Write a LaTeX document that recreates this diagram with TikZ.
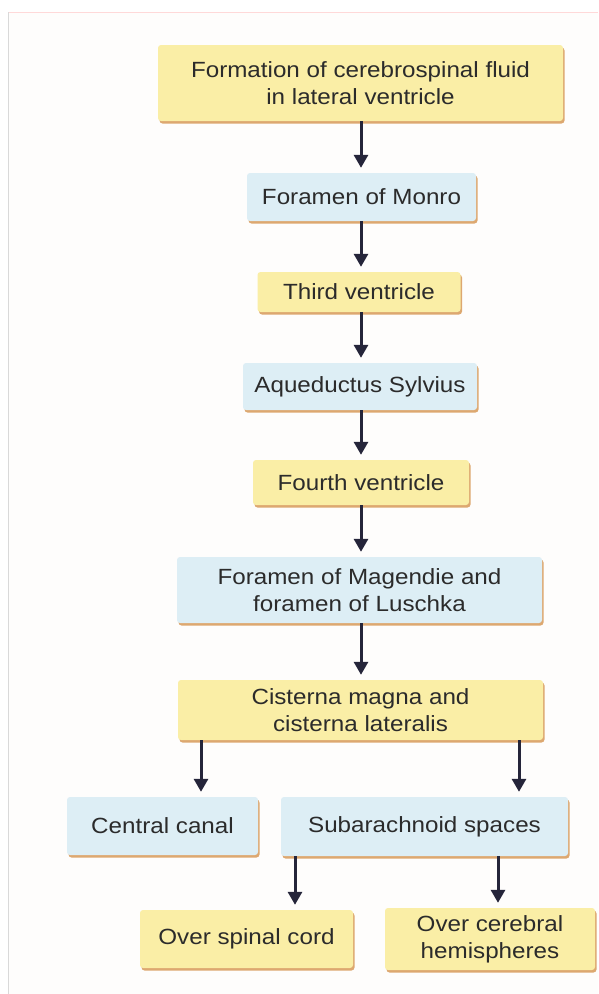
\documentclass[tikz,border=0pt]{standalone}
\usepackage{fontspec}
\setmainfont{Liberation Sans}[FakeStretch=1.1]
\usetikzlibrary{arrows.meta,shadows}
\definecolor{ybox}{HTML}{FAEEA6}
\definecolor{bbox}{HTML}{DDEEF5}
\definecolor{shad}{HTML}{DDA870}
\definecolor{arrc}{HTML}{25253A}
\definecolor{txt}{HTML}{2B2B2B}
\definecolor{bgc}{HTML}{FEFDFC}
\tikzset{
  box/.style={rounded corners=3pt, inner sep=0pt, align=center, text=txt,
    font=\fontsize{22}{27}\selectfont,
    general shadow={fill=shad, shadow xshift=1.5pt, shadow yshift=-2.5pt}},
  ybx/.style={box, fill=ybox},
  bbx/.style={box, fill=bbox},
  arr/.style={draw=arrc, line width=3pt, -{Triangle[length=13pt,width=14pt]}, shorten >=5pt}
}
\begin{document}
\begin{tikzpicture}[x=1pt,y=-1pt]
\useasboundingbox (0,0) rectangle (598,994);
\fill[bgc] (8,12) rectangle (598,994);
\draw[red!15, line width=1pt] (8,12) -- (598,12);
\draw[black!15, line width=1pt] (8,12) -- (8,994);

\node[ybx, minimum width=405pt, minimum height=76pt] (form) at (360.5,83) {Formation of cerebrospinal fluid\\in lateral ventricle};
\node[bbx, minimum width=229pt, minimum height=48pt] (monro) at (361.5,197) {Foramen of Monro};
\node[ybx, minimum width=203pt, minimum height=40pt] (third) at (359,292) {Third ventricle};
\node[bbx, minimum width=234pt, minimum height=47pt] (aque) at (360,386.5) {Aqueductus Sylvius};
\node[ybx, minimum width=216pt, minimum height=45pt] (fourth) at (361,482.5) {Fourth ventricle};
\node[bbx, minimum width=365pt, minimum height=66pt] (mag) at (359.5,590) {Foramen of Magendie and\\foramen of Luschka};
\node[ybx, minimum width=365pt, minimum height=60pt] (cist) at (360.5,710) {Cisterna magna and\\cisterna lateralis};
\node[bbx, minimum width=191pt, minimum height=58pt] (cc) at (162.5,826) {Central canal};
\node[bbx, minimum width=287pt, minimum height=59pt] (sub) at (424.5,826.5) {Subarachnoid spaces};
\node[ybx, minimum width=213pt, minimum height=58pt] (spin) at (246.5,939) {Over spinal cord};
\node[ybx, minimum width=210pt, minimum height=62pt] (cere) at (490,939) {Over cerebral\\hemispheres};

\coordinate (xm) at (361,0);
\coordinate (xc) at (201,0);
\coordinate (xs) at (519,0);
\coordinate (xsp) at (295,0);
\coordinate (xce) at (498,0);

\draw[arr] (form.south -| xm) -- (monro.north -| xm);
\draw[arr] (monro.south -| xm) -- (third.north -| xm);
\draw[arr] (third.south -| xm) -- (aque.north -| xm);
\draw[arr] (aque.south -| xm) -- (fourth.north -| xm);
\draw[arr] (fourth.south -| xm) -- (mag.north -| xm);
\draw[arr] (mag.south -| xm) -- (cist.north -| xm);
\draw[arr] (cist.south -| xc) -- (cc.north -| xc);
\draw[arr] (cist.south -| xs) -- (sub.north -| xs);
\draw[arr] (sub.south -| xsp) -- (spin.north -| xsp);
\draw[arr] (sub.south -| xce) -- (cere.north -| xce);
\end{tikzpicture}
\end{document}
